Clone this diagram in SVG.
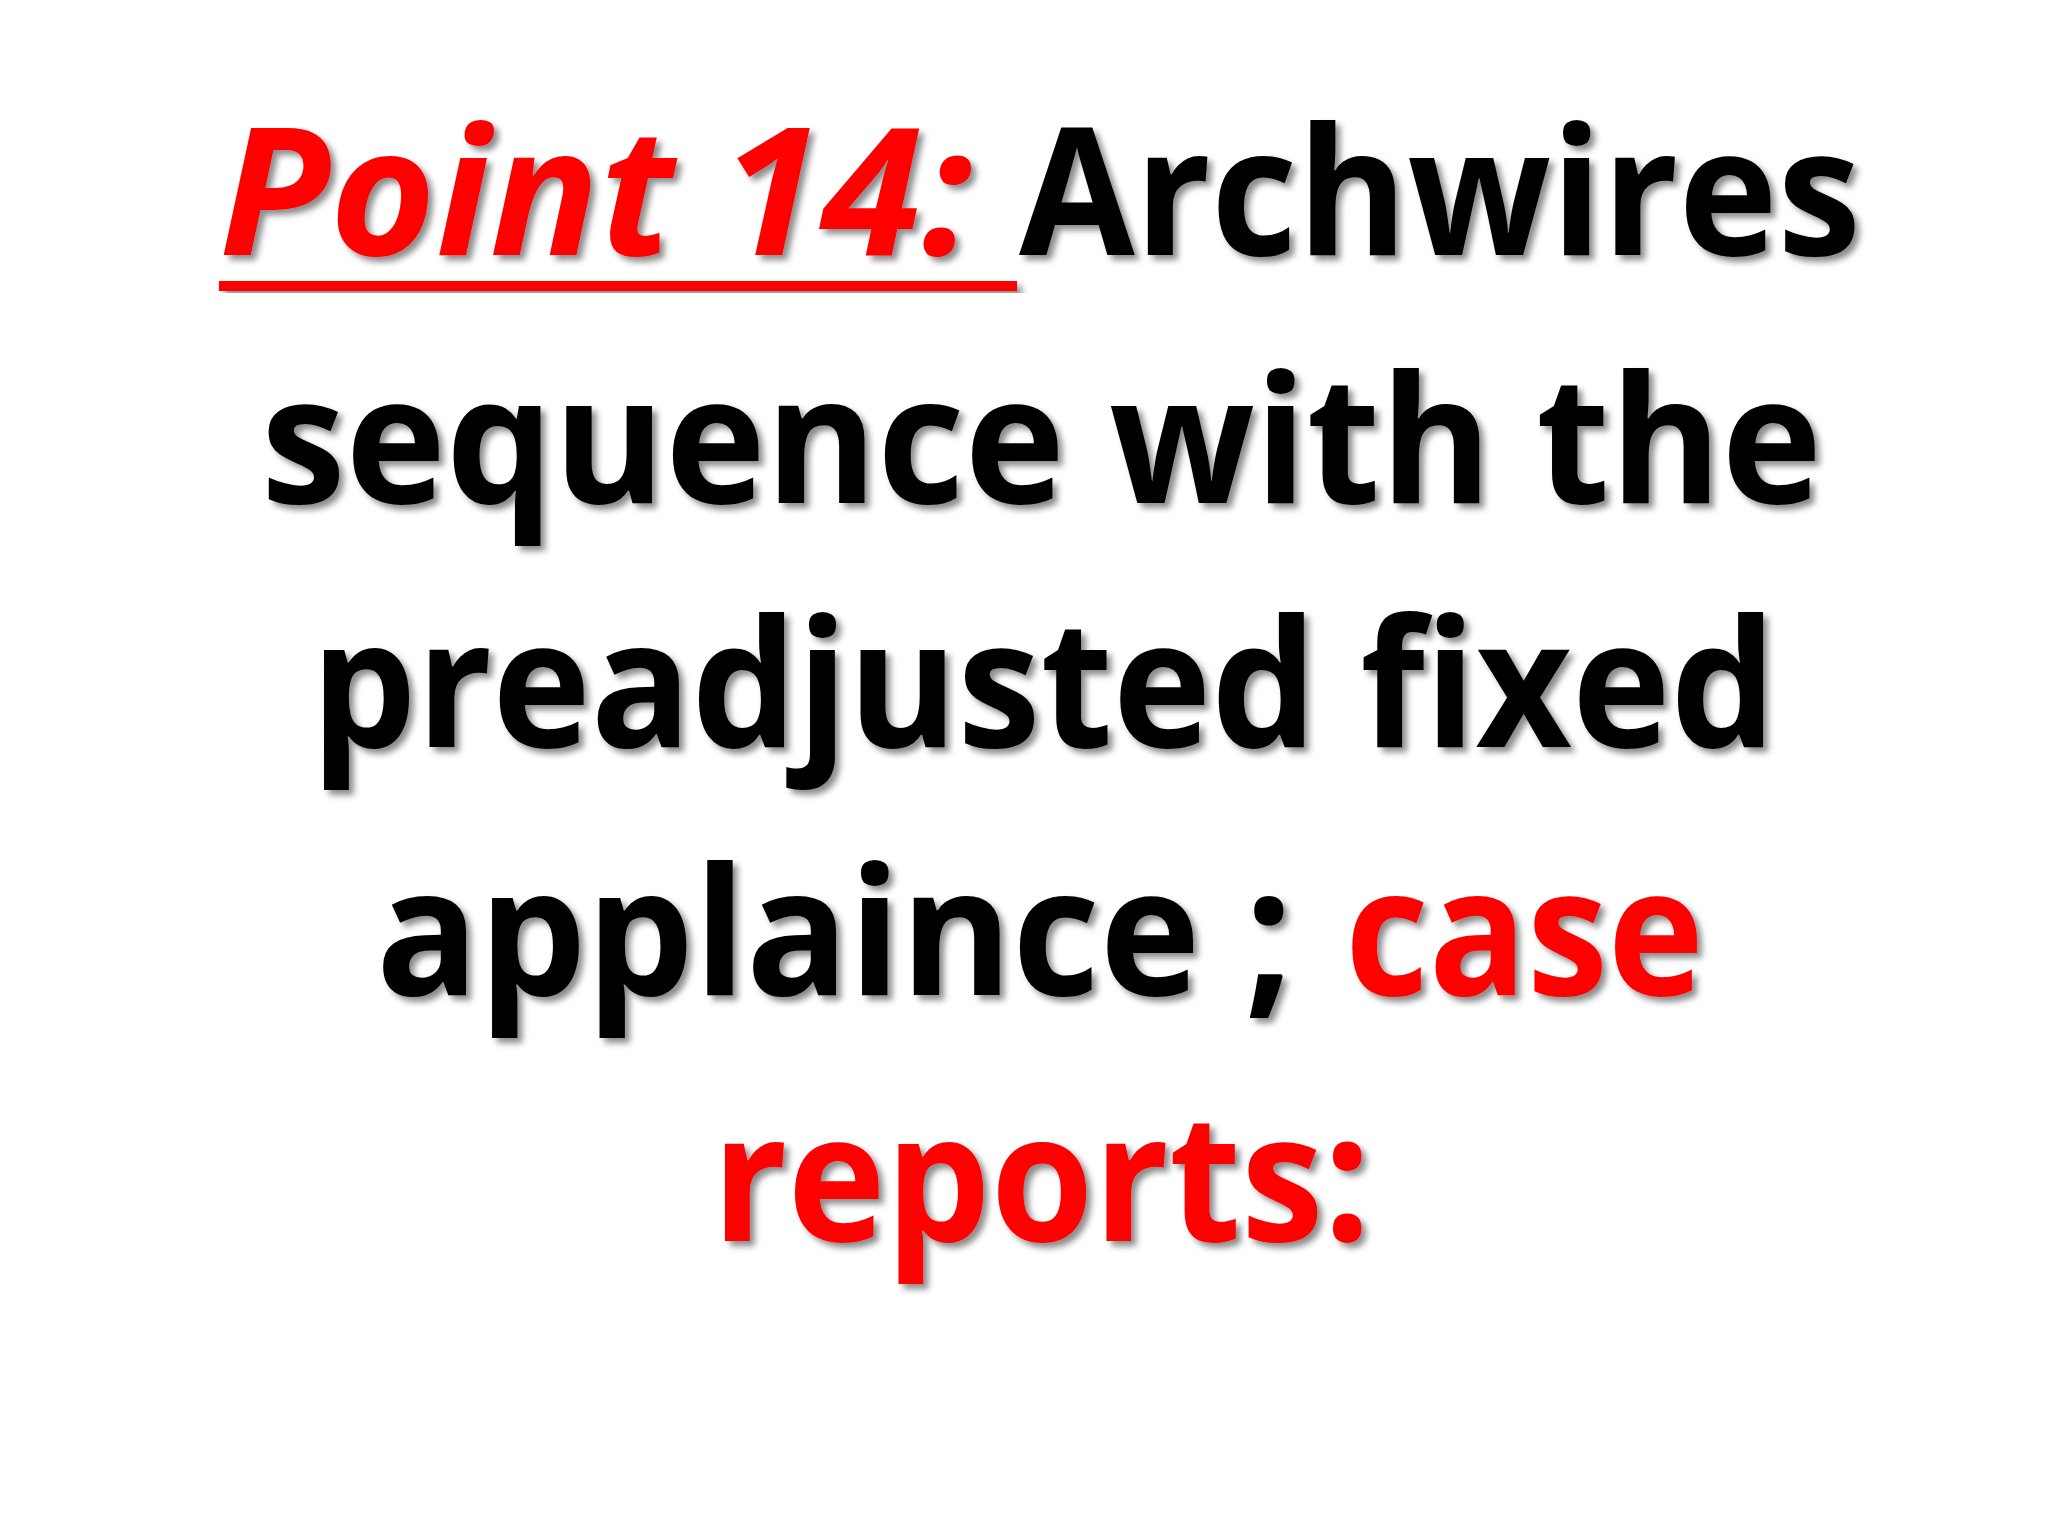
<svg xmlns="http://www.w3.org/2000/svg" width="2048" height="1536" viewBox="0 0 2048 1536">
<defs>
<filter id="sh" x="-5%" y="-5%" width="110%" height="120%"><feDropShadow dx="5" dy="5" stdDeviation="3" flood-color="#000" flood-opacity="0.45"/></filter>
<style>
text{font-family:"Open Sans","Noto Sans",sans-serif;font-weight:bold;font-size:178px;filter:url(#sh)}
.k{fill:#000}.r{fill:#ff0000}.i{font-style:italic}
</style>
</defs>
<rect width="2048" height="1536" fill="#fff"/>
<g id="title">
<text class="r i" x="219" y="255" textLength="754" lengthAdjust="spacingAndGlyphs">Point 14:</text>
<rect x="219" y="281" width="798" height="10" fill="#ff0000" filter="url(#sh)"/>
<text class="k" x="1019" y="255" textLength="842" lengthAdjust="spacingAndGlyphs">Archwires</text>
<text class="k" x="261" y="503" textLength="1561" lengthAdjust="spacingAndGlyphs">sequence with the</text>
<text class="k" x="311" y="747" textLength="1465" lengthAdjust="spacingAndGlyphs">preadjusted fixed</text>
<text class="k" x="376" y="995" textLength="917" lengthAdjust="spacingAndGlyphs">applaince ;</text>
<text class="r" x="1345" y="995" textLength="359" lengthAdjust="spacingAndGlyphs">case</text>
<text class="r" x="712" y="1241" textLength="659" lengthAdjust="spacingAndGlyphs">reports:</text>
</g>
</svg>
